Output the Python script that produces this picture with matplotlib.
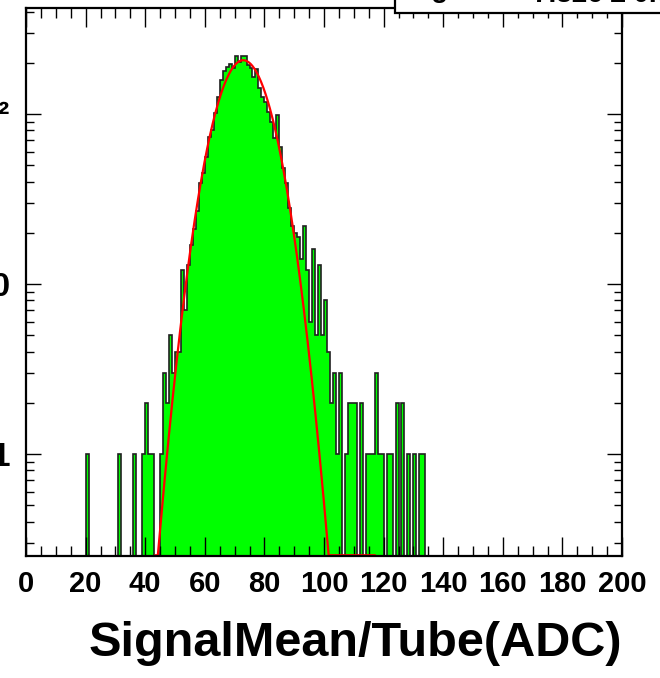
import numpy as np
import matplotlib
matplotlib.use("Agg")
import matplotlib.pyplot as plt
from matplotlib import font_manager
from matplotlib.ticker import MultipleLocator, FixedLocator, FixedFormatter, LogLocator, NullFormatter

# histogram contents, 1 ADC wide bins starting at first_bin
first_bin = 20
counts = [
    1, 0, 0, 0, 0, 0, 0, 0, 0, 0,        # 20-29
    0, 1, 0, 0, 0, 0, 1, 0, 0, 1,        # 30-39
    2, 1, 1, 0, 0, 1, 3, 2, 5, 3,        # 40-49
    4, 4, 12, 7, 13, 17, 21, 27, 39, 45,  # 50-59
    56, 73, 80, 101, 125, 159, 178, 190, 197, 187,  # 60-69
    219, 203, 219, 219, 195, 187, 165, 185, 142, 125,  # 70-79
    118, 103, 90, 72, 98, 64, 48, 39, 28, 22,  # 80-89
    20, 19, 14, 22, 12, 6, 16, 5, 13, 5,  # 90-99
    8, 4, 2, 3, 1, 3, 0, 1, 2, 2,        # 100-109
    2, 0, 2, 0, 1, 1, 1, 3, 1, 1,        # 110-119
    0, 1, 1, 0, 2, 0, 2, 0, 1, 0,        # 120-129
    1, 0, 1, 1,                          # 130-133
]

# gaussian fit
fit_const = 207.0
fit_mean = 72.9
fit_sigma = 7.826
fit_range = (43.5, 117.0)

x_label = "SignalMean/Tube(ADC)"
y_ticks = [1, 10, 100]
y_ticklabels = ["1", "10", "10\u00b2"]
stats_name = "Sigma"
stats_value = "7.826 \u00b1 0.030"

names = {f.name for f in font_manager.fontManager.ttflist}
family = "Liberation Sans Narrow" if "Liberation Sans Narrow" in names else "Liberation Sans"
plt.rcParams["font.family"] = [family, "DejaVu Sans"]
plt.rcParams["font.weight"] = "bold"

full = np.zeros(200)
full[first_bin:first_bin + len(counts)] = counts
edges = np.arange(0, 201)

ymin, ymax = 0.251, 420.0

fig = plt.figure(figsize=(6.6, 6.78), dpi=100)
ax = fig.add_axes([26 / 660, 1 - 556 / 678, (622 - 26) / 660, (556 - 8) / 678])
ax.set_yscale("log", nonpositive="clip")

shown = np.where(full > 0, full, 1e-3)
ax.stairs(shown, edges, baseline=1e-3, fill=True, color="#00ff00", lw=0)
ax.stairs(shown, edges, baseline=1e-3, color="#202020", lw=1.2)

xf = np.linspace(fit_range[0], fit_range[1], 400)
yf = fit_const * np.exp(-0.5 * ((xf - fit_mean) / fit_sigma) ** 2)
ax.plot(xf, np.maximum(yf, ymin * 1.01), color="red", lw=1.6)

ax.set_xlim(0, 200)
ax.set_ylim(ymin, ymax)

ax.xaxis.set_major_locator(MultipleLocator(20))
ax.xaxis.set_minor_locator(MultipleLocator(5))
ax.yaxis.set_major_locator(FixedLocator(y_ticks))
ax.yaxis.set_major_formatter(FixedFormatter(y_ticklabels))
ax.yaxis.set_minor_locator(LogLocator(base=10, subs=np.arange(2, 10)))
ax.yaxis.set_minor_formatter(NullFormatter())

ax.tick_params(axis="both", which="both", direction="in", top=True, right=True, width=1.0, colors="black")
ax.tick_params(axis="x", which="major", length=14, labelsize=21, pad=10)
ax.tick_params(axis="x", which="minor", length=7)
ax.tick_params(axis="y", which="major", length=11, labelsize=24, pad=11)
ax.tick_params(axis="y", which="minor", length=6)
for s in ax.spines.values():
    s.set_linewidth(1.6)

fig.text(355 / 660, 1 - 656 / 678, x_label, ha="center", va="baseline", fontsize=35, fontweight="bold")

# stats box, mostly outside the picture
fig.patches.append(plt.Rectangle((395 / 660, 1 - 13 / 678), 0.5, 0.2, transform=fig.transFigure,
                                 facecolor="white", edgecolor="black", lw=1.6, zorder=5))
fig.text(405 / 660, 1 + 3 / 678, stats_name, ha="left", va="baseline", fontsize=20, zorder=6)
fig.text(533 / 660, 1 - 2 / 678, stats_value, ha="left", va="baseline", fontsize=20, zorder=6)

fig.savefig("out.png", dpi=100)
